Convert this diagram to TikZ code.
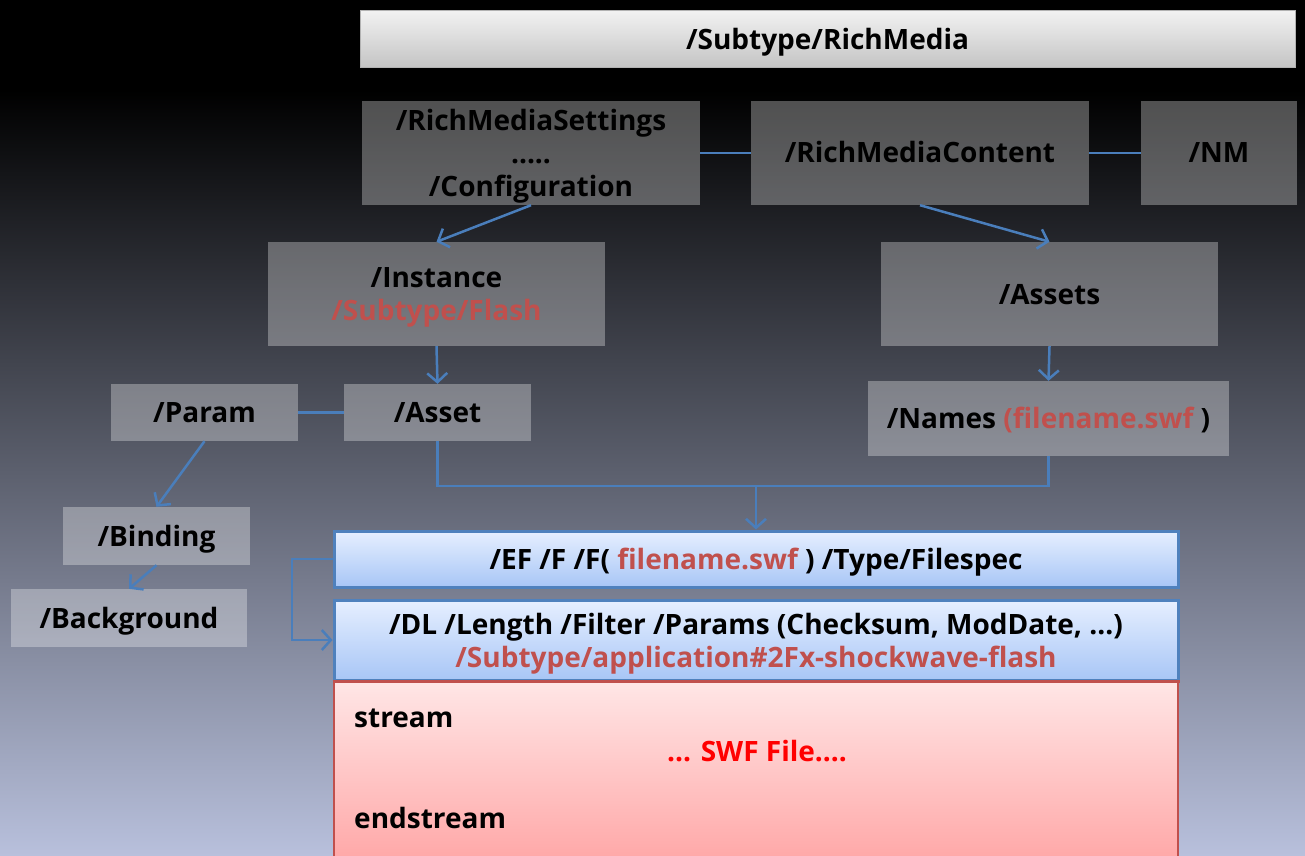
\documentclass[tikz,border=0pt]{standalone}
\usepackage{fontspec}
\setmainfont{Open Sans}
\usetikzlibrary{arrows.meta,shadows}
\definecolor{lnblue}{HTML}{4A7EBB}
\definecolor{bgbot}{HTML}{B8C0DC}
\definecolor{redtxt}{HTML}{C0504D}
\definecolor{bluebd}{HTML}{4F81BD}
\definecolor{efTop}{HTML}{E6EFFF}
\definecolor{efBot}{HTML}{A8C6F6}
\definecolor{stTop}{HTML}{FFE6E6}
\definecolor{stBot}{HTML}{FFA8A8}
\definecolor{redbd}{HTML}{C0504D}
\tikzset{
  lbl/.style={font=\bfseries\fontsize{28}{33}\selectfont, align=center, text=black},
  gbox/.style={lbl, fill=white, fill opacity=0.31, text opacity=1, draw=none, inner sep=0pt, text depth=-2pt},
  topbox/.style={lbl, top color=white!95!black, bottom color=white!77!black, draw=white!70!black, line width=0.8pt, inner sep=0pt, text depth=-2pt},
  efbox/.style={lbl, top color=efTop, bottom color=efBot, draw=bluebd, line width=3pt, inner sep=0pt, text depth=-2pt,
     drop shadow={opacity=0.35, shadow xshift=2pt, shadow yshift=-3pt}},
  stbox/.style={top color=stTop, bottom color=stBot, draw=redbd, line width=2.5pt, inner sep=0pt},
  conn/.style={draw=lnblue, line width=2.5pt},
  arr/.style={conn, -{Straight Barb[length=9pt,width=20pt,line width=2.5pt]}},
}
\begin{document}
\begin{tikzpicture}[x=1pt,y=-1pt]
\useasboundingbox (0,0) rectangle (1305,855);
\fill[black] (0,0) rectangle (1305,91);
\shade[top color=black, bottom color=bgbot] (0,90) rectangle (1305,855);

\node[topbox, minimum width=935pt, minimum height=57pt] (sub) at (827.5,38.5) {/Subtype/RichMedia};

\node[gbox, minimum width=338pt, minimum height=104pt] (settings) at (531,153) {/RichMediaSettings\\.....\\/Configuration};
\node[gbox, minimum width=338pt, minimum height=104pt, text depth=2pt] (content) at (920,153) {/RichMediaContent};
\node[gbox, minimum width=156pt, minimum height=104pt, text depth=2pt] (nm) at (1219,153) {/NM};

\node[gbox, minimum width=337pt, minimum height=104pt] (instance) at (436.5,294) {/Instance\\\textcolor{redtxt}{/Subtype/Flash}};
\node[gbox, minimum width=337pt, minimum height=104pt] (assets) at (1049.5,294) {/Assets};

\node[gbox, minimum width=187pt, minimum height=57pt, text depth=-1pt] (asset) at (437.5,412.5) {/Asset};
\node[gbox, minimum width=187pt, minimum height=57pt, text depth=-1pt] (param) at (204.5,412.5) {/Param};
\node[gbox, minimum width=361pt, minimum height=75pt, text depth=1pt] (names) at (1048.5,418.5) {/Names \textcolor{redtxt}{(filename.swf} )};

\node[gbox, minimum width=187pt, minimum height=58pt] (binding) at (156.5,536) {/Binding};
\node[gbox, minimum width=236pt, minimum height=58pt] (background) at (129,618) {/Background};

\node[stbox, minimum width=844pt, minimum height=178pt] (stream) at (756,770) {};
\node[efbox, minimum width=844pt, minimum height=80pt] (dl) at (756,640) {/DL /Length /Filter /Params (Checksum, ModDate, ...)\\\textcolor{redtxt}{/Subtype/application\#2Fx-shockwave-flash}};
\node[efbox, minimum width=844pt, minimum height=56pt] (ef) at (756,559) {/EF /F /F( \textcolor{redtxt}{filename.swf} ) /Type/Filespec};
\draw[redbd, line width=2.5pt] (dl.south west) -- (dl.south east);

\node[lbl, anchor=west, inner sep=0pt] (streamtxt) at (354,718) {stream};
\node[lbl, text=red] (swf) at (757,751) {... SWF File....};
\node[lbl, anchor=west, inner sep=0pt] (endtxt) at (354,818) {endstream};

% connectors
\draw[conn] (settings.east) -- (content.west);
\draw[conn] (content.east) -- (nm.west);
\draw[arr] (settings.south) -- (instance.north);
\draw[arr] (content.south) -- (assets.north);
\draw[arr] (instance.south) -- (asset.north);
\draw[arr] (assets.south) -- (names.north);
\draw[conn] (param.east) -- (asset.west);
\draw[arr] (param.south) -- (binding.north);
\draw[arr] (binding.south) -- (background.north);
\coordinate (j) at (756,486);
\draw[conn] (asset.south) |- (j) -| (names.south);
\draw[arr] (j) -- (ef.north);
\coordinate (k) at (292,600);
\draw[arr] (ef.west) -- (ef.west -| k) |- (dl.west);
\end{tikzpicture}
\end{document}
